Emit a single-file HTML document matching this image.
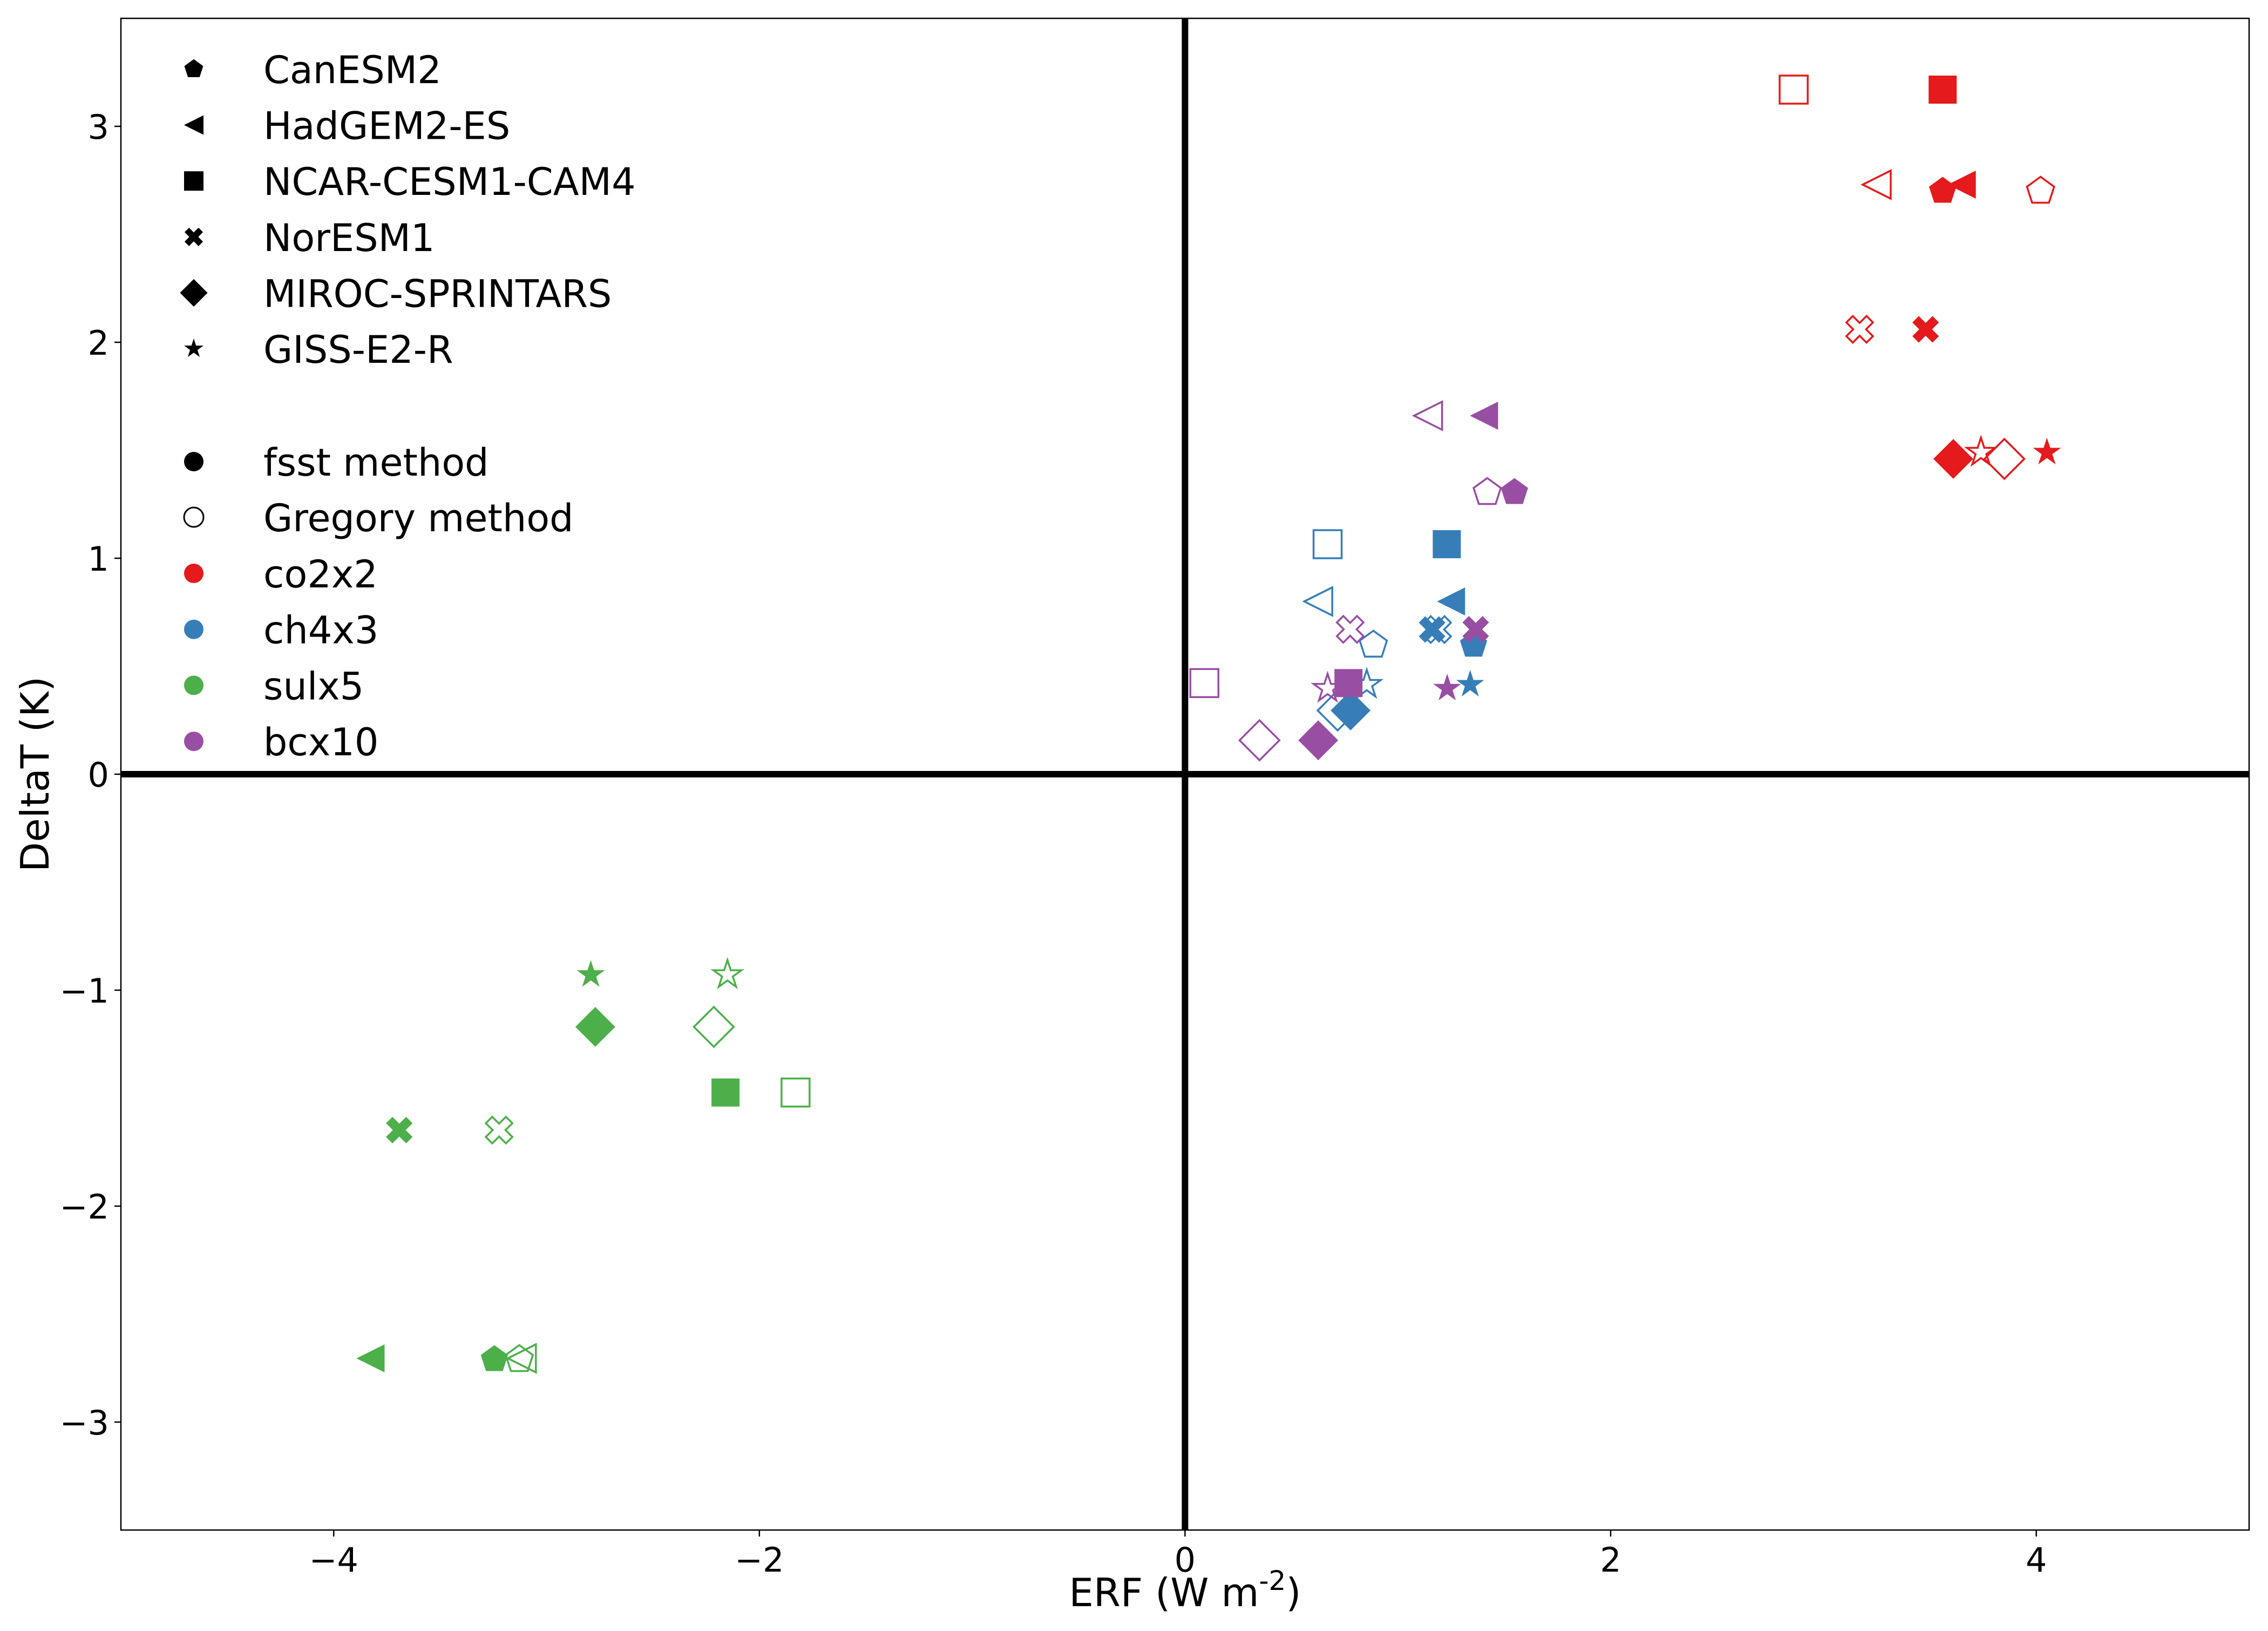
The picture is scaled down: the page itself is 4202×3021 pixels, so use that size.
<!DOCTYPE html>
<html><head><meta charset="utf-8"><style>
html,body{margin:0;padding:0;background:#fff;}
svg{display:block;font-family:"DejaVu Sans","Liberation Sans",sans-serif;}
</style></head><body>
<svg id="chart" width="4202" height="3021" viewBox="0 0 4202 3021" xmlns="http://www.w3.org/2000/svg">
<rect x="0" y="0" width="4202" height="3021" fill="#fff"/>
<g id="marks"></g>
<g id="axes"></g>
<g id="legend"></g>
</svg>
<script>
// ---- data ----
const models = ['CanESM2','HadGEM2-ES','NCAR-CESM1-CAM4','NorESM1','MIROC-SPRINTARS','GISS-E2-R'];
const modelMarkers = ['p','<','s','X','D','*'];
const experiments = ['co2x2','ch4x3','sulx5','bcx10'];
const expColors = ['#e41a1c','#377eb8','#4daf4a','#984ea3'];
// per experiment, per model: fsst ERF, Gregory ERF, deltaT
const co2ErfFsst = [3.56, 3.65, 3.56, 3.48, 3.61, 4.05];
const co2ErfGreg = [4.02, 3.25, 2.86, 3.17, 3.85, 3.74];
const co2DT      = [2.70, 2.73, 3.17, 2.06, 1.46, 1.49];
const ch4ErfFsst = [1.356, 1.25, 1.23, 1.161, 0.778, 1.34];
const ch4ErfGreg = [0.885, 0.626, 0.67, 1.187, 0.717, 0.854];
const ch4DT      = [0.598, 0.80, 1.065, 0.67, 0.295, 0.415];
const sulErfFsst = [-3.245, -3.827, -2.159, -3.692, -2.771, -2.792];
const sulErfGreg = [-3.128, -3.116, -1.830, -3.223, -2.214, -2.150];
const sulDT      = [-2.71, -2.705, -1.474, -1.648, -1.170, -0.929];
const bcErfFsst  = [1.548, 1.405, 0.768, 1.366, 0.626, 1.232];
const bcErfGreg  = [1.42, 1.142, 0.091, 0.776, 0.35, 0.67];
const bcDT       = [1.305, 1.66, 0.422, 0.671, 0.157, 0.397];
const xTicks = [-4,-2,0,2,4];
const yTicks = [-3,-2,-1,0,1,2,3];
const xRange = [-5,5];
const yRange = [-3.5,3.5];

const expData = [
  [co2ErfFsst, co2ErfGreg, co2DT],
  [ch4ErfFsst, ch4ErfGreg, ch4DT],
  [sulErfFsst, sulErfGreg, sulDT],
  [bcErfFsst, bcErfGreg, bcDT]
];

// ---- layout ----
const L=224, R=4167, T=34, B=2834;
const sx = v => L + (v - xRange[0])/(xRange[1]-xRange[0])*(R-L);
const sy = v => B - (v - yRange[0])/(yRange[1]-yRange[0])*(B-T);
const NS='http://www.w3.org/2000/svg';
function el(tag, attrs, parent){
  const e=document.createElementNS(NS,tag);
  for(const k in attrs) e.setAttribute(k, attrs[k]);
  parent.appendChild(e); return e;
}
function pts(arr){return arr.map(p=>p[0].toFixed(2)+','+p[1].toFixed(2)).join(' ');}
function shape(m, cx, cy, s){
  let p=[];
  if(m==='s'){ p=[[-s,-s],[s,-s],[s,s],[-s,s]]; }
  else if(m==='<'){ p=[[-s,0],[s,-s],[s,s]]; }
  else if(m==='D'){ const d=s*1.42; p=[[0,-d],[d,0],[0,d],[-d,0]]; }
  else if(m==='p'){ const r=s*1.02; for(let i=0;i<5;i++){const a=-Math.PI/2+i*2*Math.PI/5; p.push([r*Math.cos(a), r*Math.sin(a)]);} }
  else if(m==='*'){ const r=s*1.05, ri=r*0.382; for(let i=0;i<10;i++){const a=-Math.PI/2+i*Math.PI/5; const rr=i%2?ri:r; p.push([rr*Math.cos(a), rr*Math.sin(a)]);} }
  else if(m==='X'){ const a=s, w=s*0.45;
    const base=[[-w,-a*1.41],[w,-a*1.41],[w,-w],[a*1.41,-w],[a*1.41,w],[w,w],[w,a*1.41],[-w,a*1.41],[-w,w],[-a*1.41,w],[-a*1.41,-w],[-w,-w]];
    const c=Math.SQRT1_2; p=base.map(([x,y])=>[(x-y)*c*0.72,(x+y)*c*0.72]); }
  else if(m==='o'){ return null; }
  return p.map(([x,y])=>[cx+x, cy+y]);
}
function drawMarker(parent, m, cx, cy, s, color, filled){
  let e;
  if(m==='o'){
    e=el('circle',{cx:cx,cy:cy,r:s},parent);
  } else {
    e=el('polygon',{points:pts(shape(m,cx,cy,s))},parent);
  }
  if(filled){ e.setAttribute('fill',color); e.setAttribute('stroke','none'); }
  else { e.setAttribute('fill','none'); e.setAttribute('stroke',color); e.setAttribute('stroke-width','3.5'); }
  return e;
}

// ---- axes ----
const axes=document.getElementById('axes');
const marks=document.getElementById('marks');
const frame=el('rect',{x:L,y:T,width:R-L,height:B-T,fill:'none',stroke:'#000','stroke-width':2.5},axes);


const zx=el('line',{x1:sx(0),x2:sx(0),y1:T,y2:B,stroke:'#000','stroke-width':12},marks);


const zy=el('line',{x1:L,x2:R,y1:sy(0),y2:sy(0),stroke:'#000','stroke-width':12},marks);



xTicks.forEach(v=>{
  const t=el('line',{x1:sx(v),x2:sx(v),y1:B,y2:B+12,stroke:'#000','stroke-width':2.5},axes);
  
  
  const tx=el('text',{x:sx(v),y:B+77,'font-size':62,'text-anchor':'middle',fill:'#000'},axes);
  tx.textContent=(v<0?'\u2212':'')+Math.abs(v);
  
  
});
yTicks.forEach(v=>{
  const t=el('line',{x1:L-12,x2:L,y1:sy(v),y2:sy(v),stroke:'#000','stroke-width':2.5},axes);
  
  
  const tx=el('text',{x:L-22,y:sy(v)+23,'font-size':62,'text-anchor':'end',fill:'#000'},axes);
  tx.textContent=(v<0?'\u2212':'')+Math.abs(v);
  
  
});
const xl=el('text',{x:sx(0),y:2975,'font-size':72,'text-anchor':'middle',fill:'#000'},axes);
xl.innerHTML='ERF (W m<tspan font-size="50" dy="-30">-2</tspan><tspan dy="30">)</tspan>';


const yl=el('text',{x:0,y:0,'font-size':72,'text-anchor':'middle',fill:'#000',transform:'translate(90,1434) rotate(-90)'},axes);
yl.textContent='DeltaT (K)';



// ---- points ----
experiments.forEach((ex,ei)=>{
  const [f,g,dt]=expData[ei];
  models.forEach((mo,mi)=>{
    const m=modelMarkers[mi];
    const a=drawMarker(marks,m,sx(g[mi]),sy(dt[mi]),26,expColors[ei],false);
    
    
    const b=drawMarker(marks,m,sx(f[mi]),sy(dt[mi]),26,expColors[ei],true);
    
    
  });
});

// ---- legend ----
const leg=document.getElementById('legend');
const legItems=[];
models.forEach((mo,i)=>legItems.push({y:128+i*103.6,m:modelMarkers[i],c:'#000',f:true,t:mo}));
legItems.push({y:855,m:'o',c:'#000',f:true,t:'fsst method'});
legItems.push({y:958,m:'o',c:'#000',f:false,t:'Gregory method'});
experiments.forEach((ex,i)=>legItems.push({y:1062+i*103.7,m:'o',c:expColors[i],f:true,t:ex}));
legItems.forEach(it=>{
  const g=el('g',{},leg);
  
  
  const mk=drawMarker(g,it.m,359,it.y,18,it.c,it.f);
  if(!it.f) mk.setAttribute('stroke-width','3');
  const tx=el('text',{x:488,y:it.y+26,'font-size':70,fill:'#000'},g);
  tx.textContent=it.t;
});
</script>
</body></html>
